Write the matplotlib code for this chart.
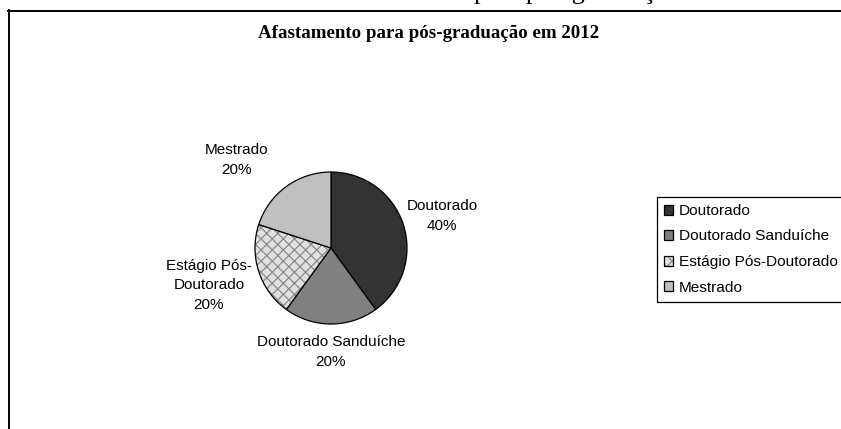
import numpy as np
import matplotlib
matplotlib.use("Agg")
import matplotlib.pyplot as plt
from matplotlib.lines import Line2D

# afastamentos em 2012, por modalidade (%)
categorias = ["Doutorado", "Doutorado Sanduíche", "Estágio Pós-Doutorado", "Mestrado"]
rotulos = ["Doutorado", "Doutorado Sanduíche", "Estágio Pós-\nDoutorado", "Mestrado"]
percentuais = [40, 20, 20, 20]

cores = ["#333333", "#808080", "#e0e0e0", "#c0c0c0"]
hachuras = [None, None, "xxx", None]
# distancia de cada rotulo ao centro (em raios) e ajuste de angulo (graus)
dist_rotulo = [1.52, 1.37, 1.68, 1.70]
desvio_ang = [-2, 0, -1, 11]

plt.rcParams["font.family"] = ["Liberation Sans", "DejaVu Sans"]
plt.rcParams["hatch.linewidth"] = 0.9

W, H = 841, 429
fig = plt.figure(figsize=(W / 100, H / 100), dpi=100)

# moldura da area do grafico
fig.add_artist(Line2D([8.5 / W, 8.5 / W], [0, 1 - 10 / H], color="black", lw=1.4,
                      transform=fig.transFigure))
fig.add_artist(Line2D([8 / W, 1], [1 - 10.5 / H, 1 - 10.5 / H], color="black", lw=1.4,
                      transform=fig.transFigure))

# texto do documento acima do grafico (so as descendentes aparecem)
fig.text(474 / W, 1 + 0.8 / H, "para pós-graduação", family="Liberation Serif",
         fontsize=19, ha="left", va="baseline")

fig.text(429 / W, 1 - 33 / H, "Afastamento para pós-graduação em 2012",
         family="Liberation Serif", fontweight="bold", fontsize=13.6,
         ha="center", va="center")

cx, cy, r = 331, 248, 76
ax = fig.add_axes([(cx - r) / W, (H - cy - r) / H, 2 * r / W, 2 * r / H])
fatias, _ = ax.pie(percentuais, colors=cores, startangle=90, counterclock=False,
                   wedgeprops=dict(edgecolor="black", linewidth=0.9))
for w, h in zip(fatias, hachuras):
    if h:
        w.set_hatch(h)
        w._hatch_color = matplotlib.colors.to_rgba("#8a8a8a")
ax.set_xlim(-1, 1)
ax.set_ylim(-1, 1)
ax.axis("off")

for w, rot, p, d, da in zip(fatias, rotulos, percentuais, dist_rotulo, desvio_ang):
    ang = np.deg2rad((w.theta1 + w.theta2) / 2 + da)
    ax.text(d * np.cos(ang), d * np.sin(ang), f"{rot}\n{p}%", ha="center", va="center",
            fontsize=11, linespacing=1.5, clip_on=False)

leg = fig.legend(fatias, categorias, loc="upper left",
                 bbox_to_anchor=(657 / W, 1 - 197 / H), fontsize=11.1,
                 frameon=True, fancybox=False, edgecolor="black", framealpha=1,
                 handlelength=0.62, handleheight=0.62, handletextpad=0.35,
                 labelspacing=0.75, borderpad=0.45, borderaxespad=0)
leg.get_frame().set_linewidth(0.9)

fig.savefig("out.png", dpi=100)
